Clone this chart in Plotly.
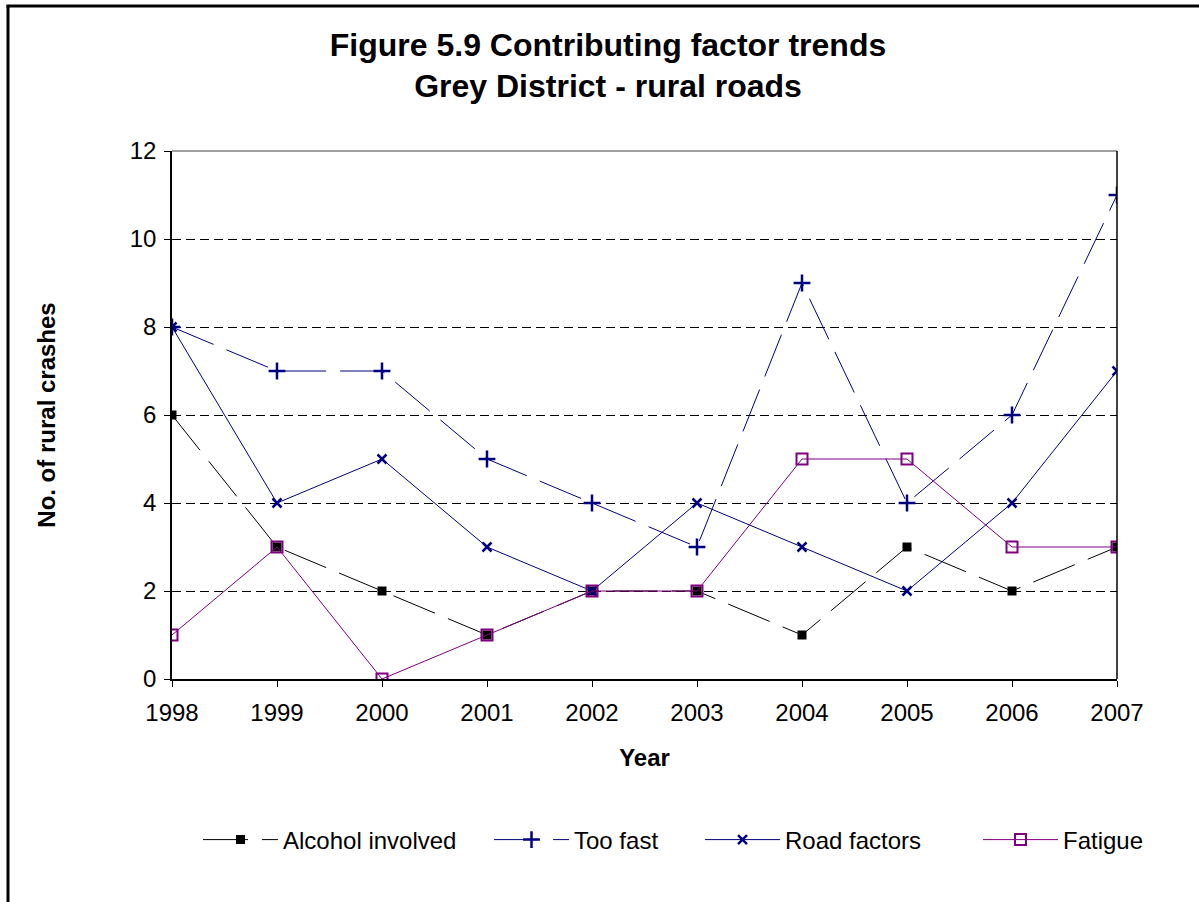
import plotly.graph_objects as go

years = ["1998", "1999", "2000", "2001", "2002", "2003", "2004", "2005", "2006", "2007"]
alcohol = [6, 3, 2, 1, 2, 2, 1, 3, 2, 3]
too_fast = [8, 7, 7, 5, 4, 3, 9, 4, 6, 11]
road_factors = [8, 4, 5, 3, 2, 4, 3, 2, 4, 7]
fatigue = [1, 3, 0, 1, 2, 2, 5, 5, 3, 3]

W, H = 1199, 902
L, R, T, B = 172, 1117, 151, 679
FONT = "Liberation Sans, Arial, sans-serif"


def px(xs):
    return (xs - L) / (R - L)


def py(ys):
    return (B - ys) / (B - T)


fig = go.Figure()
fig.add_trace(go.Scatter(x=years, y=alcohol, name="Alcohol involved", mode="lines+markers",
                         legend="legend",
                         line=dict(color="black", width=1, dash="45px,14px"),
                         marker=dict(symbol="square", size=9, color="black")))
fig.add_trace(go.Scatter(x=years, y=too_fast, name="Too fast", mode="lines+markers",
                         legend="legend2",
                         line=dict(color="#000080", width=1, dash="45px,14px"),
                         marker=dict(symbol="cross-thin", size=12, color="#000080",
                                     line=dict(color="#000080", width=2.5))))
fig.add_trace(go.Scatter(x=years, y=road_factors, name="Road factors", mode="lines+markers",
                         legend="legend3",
                         line=dict(color="#000080", width=1),
                         marker=dict(symbol="x-thin", size=9, color="#000080",
                                     line=dict(color="#000080", width=2.5))))
fig.add_trace(go.Scatter(x=years, y=fatigue, name="Fatigue", mode="lines+markers",
                         legend="legend4",
                         line=dict(color="#800080", width=1),
                         marker=dict(symbol="square-open", size=11, color="#800080",
                                     line=dict(color="#800080", width=2))))


def leg(xs):
    return dict(orientation="h", x=px(xs), xanchor="left", y=py(840), yanchor="middle",
                font=dict(size=24, family=FONT), itemwidth=75, bgcolor="rgba(0,0,0,0)")


fig.update_layout(
    width=W, height=H,
    margin=dict(l=L, r=W - R, t=T, b=H - B),
    paper_bgcolor="white", plot_bgcolor="white",
    font=dict(family=FONT, size=24, color="black"),
    title=dict(text="<b>Figure 5.9 Contributing factor trends<br>Grey District - rural roads</b>",
               x=608 / W, xanchor="center", y=1 - 55.5 / H, yanchor="middle",
               font=dict(size=32, family=FONT)),
    showlegend=True,
    legend=leg(198),
    legend2=leg(489),
    legend3=leg(700),
    legend4=leg(978),
    xaxis=dict(
        type="category", range=[0, 9],
        showline=True, linecolor="black", linewidth=1.5,
        ticks="outside", ticklen=6, tickcolor="black",
        showgrid=False, zeroline=False, ticklabelstandoff=5,
        title=dict(text="<b>Year</b>", font=dict(size=24), standoff=25),
        tickfont=dict(size=24),
    ),
    yaxis=dict(
        range=[0, 12], dtick=2,
        showline=True, linecolor="black", linewidth=1.5, mirror=False,
        ticks="outside", ticklen=6, tickcolor="black", ticklabelstandoff=3,
        showgrid=True, gridcolor="black", gridwidth=1, griddash="9px,5px",
        zeroline=False,
        title=dict(text="<b>No. of rural crashes</b>", font=dict(size=24), standoff=67),
        tickfont=dict(size=24),
    ),
    shapes=[
        dict(type="line", xref="paper", yref="paper", x0=1, x1=1, y0=0, y1=1,
             line=dict(color="black", width=1.5)),
        dict(type="line", xref="paper", yref="paper", x0=0, x1=1, y0=1, y1=1,
             line=dict(color="#808080", width=1.5), layer="below"),
        dict(type="line", xref="paper", yref="paper", x0=px(8), x1=px(8), y0=py(5), y1=py(910),
             line=dict(color="black", width=3)),
        dict(type="line", xref="paper", yref="paper", x0=px(6.5), x1=px(1210), y0=py(6), y1=py(6),
             line=dict(color="black", width=3)),
    ],
)

fig.write_html("out.html", config={"displayModeBar": False},
               post_script="document.body.style.margin='0';")
